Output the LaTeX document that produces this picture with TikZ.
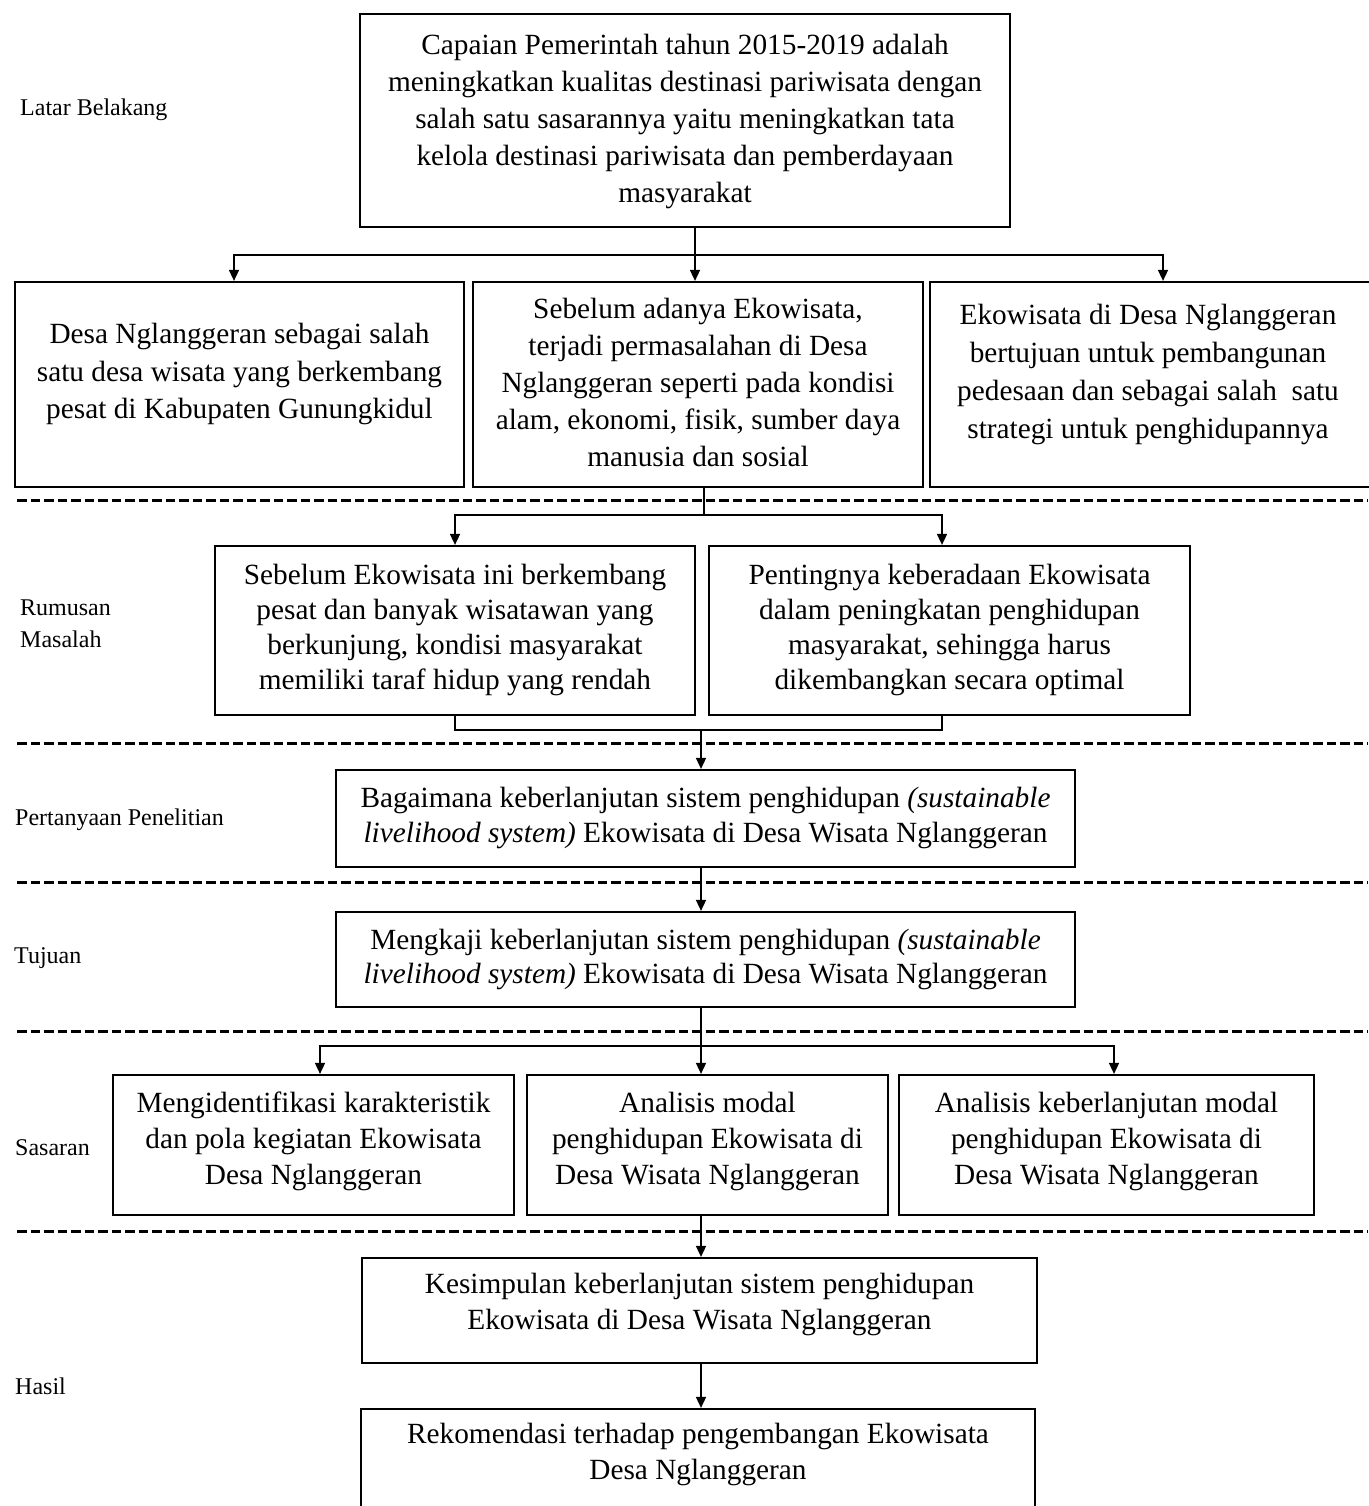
\documentclass[tikz,border=0pt]{standalone}
\usepackage{fontspec}
\setmainfont{Liberation Serif}
\usetikzlibrary{arrows.meta,calc}
\newcommand{\boxfont}[1]{\fontsize{29.3}{#1}\selectfont}
\newcommand{\lblfont}{\fontsize{24}{32}\selectfont}
\tikzset{
  frame/.style={draw, line width=2.2pt, inner sep=0pt},
  txt/.style={align=center, inner sep=0pt},
  lbl/.style={anchor=west, inner sep=0pt, align=left, font=\lblfont},
  conn/.style={line width=1.6pt},
  arr/.style={line width=1.6pt, -{Triangle[length=11pt,width=10pt]}},
  sep/.style={line width=3pt, dash pattern=on 9.5pt off 4pt},
}
\begin{document}
\begin{tikzpicture}[x=1pt,y=-1pt]
\useasboundingbox (0,0) rectangle (1368,1506);
\fill[white] (0,0) rectangle (1368,1506);

% ---------- Latar Belakang ----------
\node[lbl] (lLB) at (20,110) {Latar Belakang};
\node[frame, minimum width=650pt, minimum height=213pt] (T0) at (685,120.5) {};
\node[txt, font=\boxfont{37}] (T0t) at (685,121) {Capaian Pemerintah tahun 2015-2019 adalah\\meningkatkan kualitas destinasi pariwisata dengan\\salah satu sasarannya yaitu meningkatkan tata\\kelola destinasi pariwisata dan pemberdayaan\\masyarakat};

\node[frame, minimum width=449pt, minimum height=205pt] (B1) at (239.5,384.5) {};
\node[txt, font=\boxfont{37.5}] (B1t) at (239.5,374) {Desa Nglanggeran sebagai salah\\satu desa wisata yang berkembang\\pesat di Kabupaten Gunungkidul};

\node[frame, minimum width=450pt, minimum height=205pt] (B2) at (698,384.5) {};
\node[txt, font=\boxfont{37}] (B2t) at (698,382) {Sebelum adanya Ekowisata,\\terjadi permasalahan di Desa\\Nglanggeran seperti pada kondisi\\alam, ekonomi, fisik, sumber daya\\manusia dan sosial};

\node[frame, minimum width=450pt, minimum height=205pt] (B3) at (1155,384.5) {};
\node[txt, font=\boxfont{38}] (B3t) at (1148,374) {Ekowisata di Desa Nglanggeran\\bertujuan untuk pembangunan\\pedesaan dan sebagai salah\ \ satu\\strategi untuk penghidupannya};

\coordinate (s1) at (695,255);
\draw[conn] (T0.south -| s1) -- (s1);
\draw[arr] (s1) -| ([xshift=-5.5pt]B1.north);
\draw[arr] (s1) -- (s1 |- B2.north);
\draw[arr] (s1) -| ([xshift=8pt]B3.north);

\draw[sep] (17,500) -- (1368,500);

% ---------- Rumusan Masalah ----------
\node[lbl] (lRM) at (20,624) {Rumusan\\Masalah};
\node[frame, minimum width=480pt, minimum height=169pt] (A) at (455,630.5) {};
\node[txt, font=\boxfont{35}] (At) at (455,630) {Sebelum Ekowisata ini berkembang\\pesat dan banyak wisatawan yang\\berkunjung, kondisi masyarakat\\memiliki taraf hidup yang rendah};
\node[frame, minimum width=481pt, minimum height=169pt] (B) at (949.5,630.5) {};
\node[txt, font=\boxfont{35}] (Bt) at (949.5,630) {Pentingnya keberadaan Ekowisata\\dalam peningkatan penghidupan\\masyarakat, sehingga harus\\dikembangkan secara optimal};

\coordinate (s2) at (704,515);
\draw[conn] ([xshift=6pt]B2.south) -- (s2);
\draw[arr] (s2) -| (A.north);
\draw[arr] (s2) -| ([xshift=-7.5pt]B.north);

\coordinate (s3) at (701,730);
\draw[conn] (A.south) |- (s3) -| ([xshift=-7.5pt]B.south);

\draw[sep] (17,743) -- (1368,743);

% ---------- Pertanyaan Penelitian ----------
\node[lbl] (lPP) at (15,820) {Pertanyaan Penelitian};
\node[frame, minimum width=739pt, minimum height=97pt] (P) at (705.5,818.5) {};
\node[txt, font=\boxfont{35}] (Pt) at (705.5,817.5) {Bagaimana keberlanjutan sistem penghidupan \textit{(sustainable}\\\textit{livelihood system)} Ekowisata di Desa Wisata Nglanggeran};
\draw[arr] (s3) -- (s3 |- P.north);

\draw[sep] (17,882) -- (1368,882);

% ---------- Tujuan ----------
\node[lbl] (lTJ) at (14,958) {Tujuan};
\node[frame, minimum width=739pt, minimum height=95pt] (Tj) at (705.5,959.5) {};
\node[txt, font=\boxfont{34}] (Tjt) at (705.5,959) {Mengkaji keberlanjutan sistem penghidupan \textit{(sustainable}\\\textit{livelihood system)} Ekowisata di Desa Wisata Nglanggeran};
\draw[arr] (P.south -| s3) -- (Tj.north -| s3);

\draw[sep] (17,1031) -- (1368,1031);

% ---------- Sasaran ----------
\node[lbl] (lSS) at (15,1148) {Sasaran};
\node[frame, minimum width=401pt, minimum height=140pt] (S1) at (313.5,1145) {};
\node[txt, font=\boxfont{36}] (S1t) at (313.5,1141) {Mengidentifikasi karakteristik\\dan pola kegiatan Ekowisata\\Desa Nglanggeran};
\node[frame, minimum width=361pt, minimum height=140pt] (S2) at (707.5,1145) {};
\node[txt, font=\boxfont{36}] (S2t) at (707.5,1141) {Analisis modal\\penghidupan Ekowisata di\\Desa Wisata Nglanggeran};
\node[frame, minimum width=415pt, minimum height=140pt] (S3) at (1106.5,1145) {};
\node[txt, font=\boxfont{36}] (S3t) at (1106.5,1141) {Analisis keberlanjutan modal\\penghidupan Ekowisata di\\Desa Wisata Nglanggeran};

\coordinate (s4) at (701,1046);
\draw[conn] (Tj.south -| s4) -- (s4);
\draw[arr] (s4) -| ([xshift=6.5pt]S1.north);
\draw[arr] (s4) -- (s4 |- S2.north);
\draw[arr] (s4) -| ([xshift=7.5pt]S3.north);

\draw[sep] (17,1231) -- (1368,1231);

% ---------- Hasil ----------
\node[lbl] (lHS) at (15,1386) {Hasil};
\node[frame, minimum width=675pt, minimum height=105pt] (K) at (699.5,1310.5) {};
\node[txt, font=\boxfont{36}] (Kt) at (699.5,1304) {Kesimpulan keberlanjutan sistem penghidupan\\Ekowisata di Desa Wisata Nglanggeran};
\node[frame, minimum width=674pt, minimum height=130pt] (R) at (698,1474) {};
\node[txt, font=\boxfont{36}] (Rt) at (698,1454) {Rekomendasi terhadap pengembangan Ekowisata\\Desa Nglanggeran};

\draw[arr] (S2.south -| s4) -- (K.north -| s4);
\draw[arr] (K.south -| s4) -- (R.north -| s4);
\end{tikzpicture}
\end{document}
